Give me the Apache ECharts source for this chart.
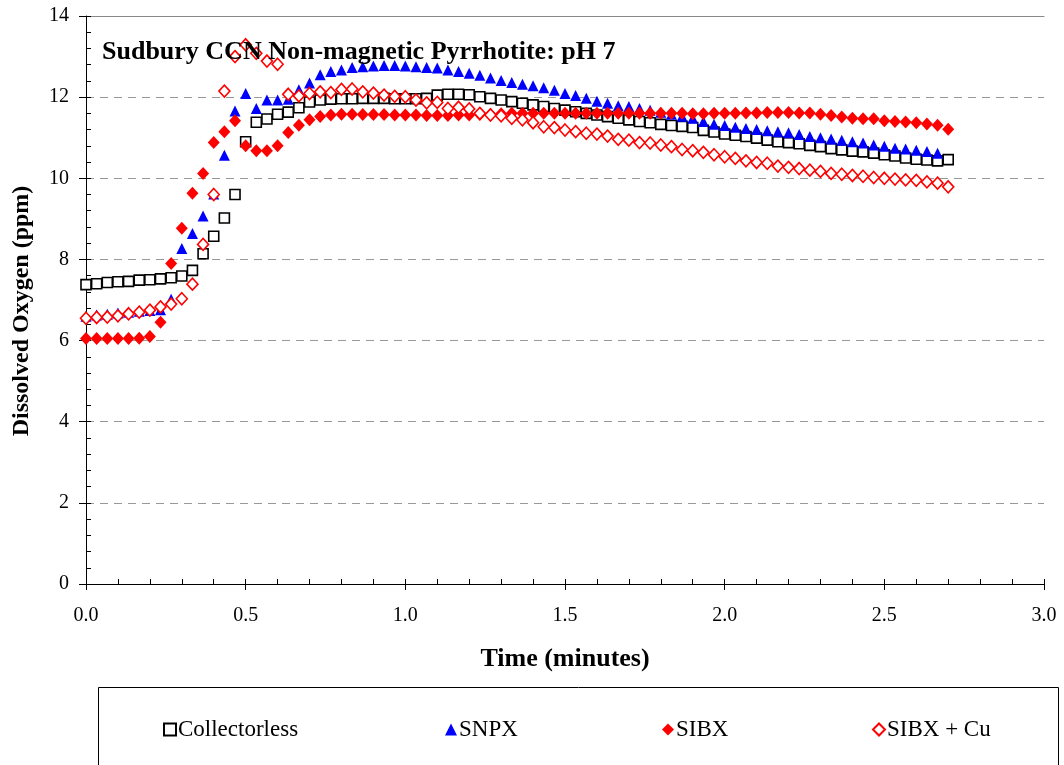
<!DOCTYPE html>
<html>
<head>
<meta charset="utf-8">
<script src="https://cdn.jsdelivr.net/npm/echarts@6/dist/echarts.min.js"></script>
<style>
html,body{margin:0;padding:0;background:#fff;}
#chart{width:1064px;height:765px;}
</style>
</head>
<body>
<div id="chart"></div>
<script>
// Sample times in seconds (every 2 s)
const timeSeconds = [0,2,4,6,8,10,12,14,16,18,20,22,24,26,28,30,32,34,36,38,40,42,44,46,48,50,52,54,56,58,60,62,64,66,68,70,72,74,76,78,80,82,84,86,88,90,92,94,96,98,100,102,104,106,108,110,112,114,116,118,120,122,124,126,128,130,132,134,136,138,140,142,144,146,148,150,152,154,156,158,160,162];

const collectorless = [7.38,7.40,7.43,7.45,7.46,7.49,7.50,7.52,7.55,7.59,7.73,8.14,8.57,9.02,9.60,10.90,11.38,11.46,11.58,11.63,11.74,11.88,11.93,11.95,11.96,11.96,11.97,11.97,11.97,11.96,11.96,11.96,11.97,12.05,12.07,12.07,12.06,12.01,11.97,11.93,11.89,11.85,11.81,11.77,11.72,11.68,11.64,11.60,11.56,11.52,11.48,11.44,11.40,11.37,11.33,11.30,11.28,11.25,11.18,11.14,11.09,11.06,11.03,10.99,10.94,10.90,10.88,10.85,10.81,10.78,10.73,10.70,10.67,10.65,10.62,10.58,10.55,10.50,10.47,10.45,10.43,10.46];

const snpx = [6.60,6.63,6.65,6.68,6.70,6.72,6.74,6.76,7.02,8.27,8.64,9.07,9.61,10.57,11.66,12.09,11.72,11.93,11.93,11.95,12.18,12.35,12.55,12.63,12.67,12.73,12.75,12.77,12.78,12.78,12.77,12.75,12.73,12.72,12.67,12.63,12.59,12.54,12.47,12.41,12.36,12.32,12.28,12.23,12.17,12.09,12.04,11.97,11.90,11.85,11.79,11.77,11.72,11.68,11.63,11.58,11.53,11.48,11.40,11.33,11.30,11.26,11.23,11.20,11.17,11.15,11.12,11.08,11.03,11.00,10.97,10.94,10.90,10.87,10.82,10.79,10.74,10.72,10.69,10.66,10.62];

const sibx = [6.05,6.05,6.05,6.05,6.05,6.06,6.10,6.45,7.90,8.77,9.63,10.12,10.88,11.15,11.42,10.80,10.68,10.68,10.80,11.13,11.31,11.44,11.52,11.56,11.58,11.58,11.57,11.57,11.57,11.56,11.56,11.56,11.55,11.55,11.55,11.56,11.56,11.57,11.58,11.59,11.60,11.60,11.60,11.60,11.60,11.60,11.60,11.60,11.60,11.60,11.60,11.60,11.60,11.60,11.60,11.60,11.60,11.59,11.59,11.60,11.60,11.60,11.61,11.61,11.62,11.62,11.62,11.61,11.61,11.58,11.55,11.51,11.48,11.47,11.47,11.42,11.40,11.39,11.37,11.34,11.31,11.21];

const sibxCu = [6.55,6.57,6.58,6.61,6.66,6.70,6.75,6.83,6.90,7.03,7.39,8.37,9.60,12.15,13.00,13.29,13.08,12.89,12.81,12.07,12.03,12.09,12.13,12.11,12.19,12.20,12.13,12.10,12.05,12.02,12.01,11.93,11.86,11.87,11.72,11.75,11.71,11.60,11.56,11.54,11.48,11.44,11.37,11.27,11.25,11.19,11.15,11.11,11.09,11.04,10.96,10.94,10.88,10.87,10.82,10.78,10.71,10.68,10.64,10.58,10.53,10.49,10.43,10.39,10.37,10.30,10.27,10.24,10.20,10.17,10.12,10.10,10.07,10.05,10.02,10.00,9.98,9.96,9.95,9.91,9.88,9.79];

const seriesNames = ['Collectorless','SNPX','SIBX','SIBX + Cu'];
const chartTitle = 'Sudbury CCN Non-magnetic Pyrrhotite: pH 7';
const xTitle = 'Time (minutes)';
const yTitle = 'Dissolved Oxygen (ppm)';

function pairs(vals){ return vals.map((v,i)=>[timeSeconds[i]/60, v]); }

const FONT = '"Liberation Serif","Times New Roman",serif';
const chart = echarts.init(document.getElementById('chart'), null, {renderer:'canvas'});

const legendBase = {
  orient:'horizontal', itemGap:0, itemWidth:12, itemHeight:12, top:713,
  textStyle:{fontFamily:FONT, fontSize:23, color:'#000', padding:[0,0,0,-3]}
};

chart.setOption({
  animation:false,
  backgroundColor:'#fff',
  title:{ text:chartTitle, left:97, top:34,
    textStyle:{fontFamily:FONT, fontSize:26, fontWeight:'bold', color:'#000'} },
  grid:{ left:86, right:20, top:16, bottom:181, containLabel:false },
  legend:[
    Object.assign({}, legendBase, {left:158, data:[{name:seriesNames[0]}]}),
    Object.assign({}, legendBase, {left:440, data:[{name:seriesNames[1]}]}),
    Object.assign({}, legendBase, {left:657, data:[{name:seriesNames[2]}]}),
    Object.assign({}, legendBase, {left:867, data:[{name:seriesNames[3]}]})
  ],
  graphic:[{
    type:'rect', left:96, top:685, shape:{width:960, height:100},
    style:{fill:'none', stroke:'#000', lineWidth:1}, silent:true
  }],
  xAxis:[
    { type:'value', min:0, max:3, interval:0.5, position:'bottom',
      name:xTitle, nameLocation:'middle', nameGap:62,
      nameTextStyle:{fontFamily:FONT, fontSize:26, fontWeight:'bold', color:'#000'},
      axisLine:{show:true, onZero:false, lineStyle:{color:'#000', width:1}},
      axisTick:{show:true, inside:true, length:5, lineStyle:{color:'#000'}},
      minorTick:{show:true, splitNumber:5, length:5, lineStyle:{color:'#000'}},
      axisLabel:{fontFamily:FONT, fontSize:20, color:'#000', margin:22,
        formatter:v=>v.toFixed(1)},
      splitLine:{show:false}
    },
    { type:'value', min:0, max:3, interval:0.5, position:'bottom',
      axisLine:{show:false, onZero:false},
      axisTick:{show:true, inside:false, length:6, lineStyle:{color:'#000'}},
      axisLabel:{show:false}, splitLine:{show:false}
    },
    { type:'value', min:0, max:3, position:'top',
      axisLine:{show:true, onZero:false, lineStyle:{color:'#888', width:1}},
      axisTick:{show:false}, axisLabel:{show:false}, splitLine:{show:false}
    }
  ],
  yAxis:[
    { type:'value', min:0, max:14, interval:2, position:'left',
      name:yTitle, nameLocation:'middle', nameGap:52, nameRotate:90,
      nameTextStyle:{fontFamily:FONT, fontSize:24, fontWeight:'bold', color:'#000', padding:[0,22,0,0]},
      axisLine:{show:true, onZero:false, lineStyle:{color:'#000', width:1}},
      axisTick:{show:true, inside:true, length:5, lineStyle:{color:'#000'}},
      minorTick:{show:true, splitNumber:5, length:5, lineStyle:{color:'#000'}},
      axisLabel:{fontFamily:FONT, fontSize:20, color:'#000', margin:17},
      splitLine:{show:true, lineStyle:{color:'#999', width:1, type:[8,6]}}
    },
    { type:'value', min:0, max:14, interval:2, position:'left',
      axisLine:{show:false, onZero:false},
      axisTick:{show:true, inside:false, length:7, lineStyle:{color:'#000'}},
      axisLabel:{show:false}, splitLine:{show:false}
    }
  ],
  series:[
    { name:seriesNames[0], type:'scatter', data:pairs(collectorless),
      symbol:'rect', symbolSize:10,
      itemStyle:{color:'#fff', borderColor:'#000', borderWidth:1.6, opacity:1} },
    { name:seriesNames[1], type:'scatter', data:pairs(snpx),
      symbol:'triangle', symbolSize:[11,11],
      itemStyle:{color:'#0000FF', opacity:1} },
    { name:seriesNames[2], type:'scatter', data:pairs(sibx),
      symbol:'diamond', symbolSize:[12,13],
      itemStyle:{color:'#FF0000', opacity:1} },
    { name:seriesNames[3], type:'scatter', data:pairs(sibxCu),
      symbol:'diamond', symbolSize:[11,12],
      itemStyle:{color:'#fff', borderColor:'#FF0000', borderWidth:1.6, opacity:1} }
  ]
});
</script>
</body>
</html>
